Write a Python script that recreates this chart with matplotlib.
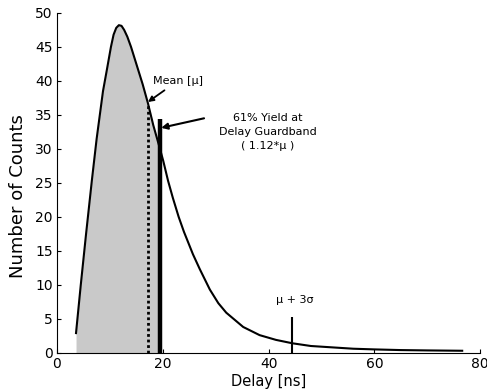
import matplotlib
matplotlib.use("Agg")
import matplotlib.pyplot as plt
import numpy as np

# Data
delay = [3.6, 4.5, 5.5, 6.6, 7.5, 8.1, 8.7, 9.4, 10.2, 10.7, 11.2, 11.7, 12.2, 12.7,
         13.3, 14.0, 15.0, 16.2, 17.2, 18.2, 19.4, 20.1, 21.0, 21.9, 23.0, 24.0,
         25.7, 27.0, 28.9, 30.5, 32.0, 35.2, 38.3, 41.4, 44.5, 48, 52, 56, 60, 65,
         70, 76.6]
counts = [2.9, 10, 17.5, 25.4, 31.5, 35, 38.5, 41.5, 45, 46.8, 47.8, 48.2, 48.1, 47.5,
          46.5, 45, 42.5, 39.5, 36.7, 33.5, 30.2, 28.2, 25.3, 22.8, 20.0, 17.8,
          14.5, 12.3, 9.3, 7.3, 5.9, 3.8, 2.6, 1.9, 1.4, 1.0, 0.8, 0.6, 0.5, 0.4,
          0.35, 0.3]
mean_x = 17.2
mean_y = 36.7
guard_x = 19.4
guard_top = 34.4
sigma3_x = 44.5
sigma3_top = 5.2
xticks = [0, 20, 40, 60, 80]
yticks = [0, 5, 10, 15, 20, 25, 30, 35, 40, 45, 50]

fig = plt.figure(figsize=(4.87, 3.92), dpi=100)
ax = fig.add_axes([0.117, 0.10, 0.869, 0.867])

d = np.array(delay)
c = np.array(counts)
m = d <= guard_x
ax.fill_between(d[m], 0, c[m], color="#c9c9c9", lw=0, zorder=1)
ax.plot(d, c, color="black", lw=1.5, zorder=3)
ax.plot([mean_x, mean_x], [0, mean_y], color="black", lw=2, ls=(0, (1, 1)), zorder=4)
ax.plot([guard_x, guard_x], [0, guard_top], color="black", lw=3.2, solid_capstyle="butt", zorder=4)
ax.plot([sigma3_x, sigma3_x], [0, sigma3_top], color="black", lw=1.5, solid_capstyle="butt", zorder=4)

ax.annotate("Mean [\u03bc]", xy=(mean_x, mean_y + 0.2), xytext=(18.1, 40),
            fontsize=8, ha="left", va="center",
            arrowprops=dict(arrowstyle="-|>", color="black", lw=1.3, mutation_scale=8,
                            shrinkA=2, shrinkB=0))
ax.annotate("", xy=(guard_x + 0.3, 33.1), xytext=(27.8, 34.5),
            arrowprops=dict(arrowstyle="-|>", color="black", lw=1.5, mutation_scale=9,
                            shrinkA=0, shrinkB=0))
ax.text(39.8, 32.5, "61% Yield at\nDelay Guardband\n( 1.12*\u03bc )", fontsize=8,
        ha="center", va="center", linespacing=1.5)
ax.text(45.0, 7.7, "\u03bc + 3\u03c3", fontsize=8, ha="center", va="center")

ax.set_xlim(0, 80)
ax.set_ylim(0, 50)
ax.set_xticks(xticks)
ax.set_yticks(yticks)
ax.tick_params(direction="in", length=3, width=0.8, labelsize=10, pad=3)
for s in ["top", "right"]:
    ax.spines[s].set_visible(False)
ax.set_xlabel("Delay [ns]", fontsize=10.5, labelpad=2)
ax.set_ylabel("Number of Counts", fontsize=13)
ax.yaxis.set_label_coords(-0.072, 0.46)

fig.savefig("out.png", dpi=100)
